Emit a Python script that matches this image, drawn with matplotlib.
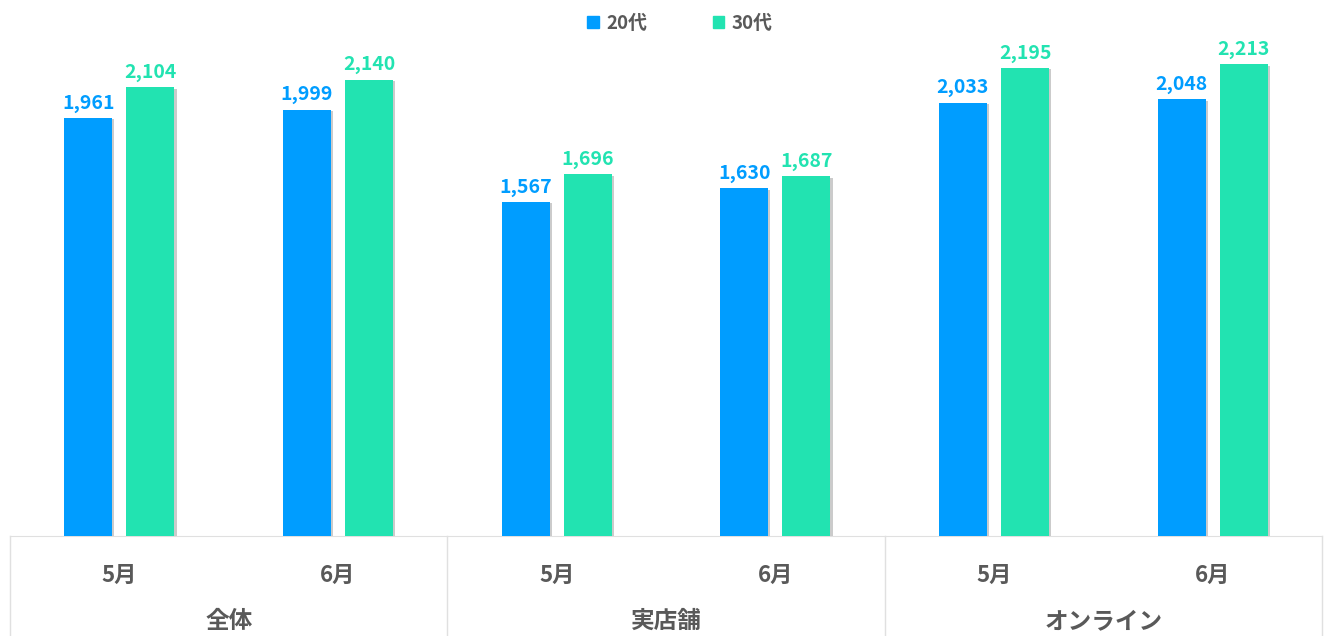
import matplotlib
matplotlib.use('Agg')
import matplotlib.pyplot as plt
import matplotlib.patheffects as pe
from matplotlib.patches import Patch
import matplotlib.transforms as mtransforms

plt.rcParams['font.family'] = ['Noto Sans CJK JP', 'DejaVu Sans']
plt.rcParams['font.weight'] = 'bold'

groups = ['全体', '実店舗', 'オンライン']
months = ['5月', '6月']
series = ['20代', '30代']
v20 = [1961, 1999, 1567, 1630, 2033, 2048]
v30 = [2104, 2140, 1696, 1687, 2195, 2213]
colors = ['#009DFF', '#22E3B1']
gray = '#595959'

fig = plt.figure(figsize=(13.33, 6.36), dpi=100)
ax = fig.add_axes([10 / 1333, 1 - 536 / 636, 1312 / 1333, 500 / 636])

x = list(range(len(v20)))
w = 0.22
off = 0.142
shadow = [pe.SimplePatchShadow(offset=(1.5, -1), shadow_rgbFace='#999999', alpha=0.5), pe.Normal()]
for vals, col, d in [(v20, colors[0], -off), (v30, colors[1], off)]:
    xs = [i + d for i in x]
    bars = ax.bar(xs, vals, width=w, color=col, zorder=3)
    for b in bars:
        b.set_path_effects(shadow)
    for xi, v in zip(xs, vals):
        ax.text(xi, v + 25, f'{v:,}', ha='center', va='bottom', color=col,
                fontsize=14, fontweight='bold')

ax.set_xlim(-0.5, 5.5)
ax.set_ylim(0, 2345)
ax.set_yticks([])
for s in ['top', 'right', 'left']:
    ax.spines[s].set_visible(False)
ax.spines['bottom'].set_color('#E0E0E0')

ax.set_xticks(x)
ax.set_xticklabels(months * len(groups), fontsize=16, color=gray, fontweight='bold')
ax.tick_params(axis='x', length=0, pad=20)

tr = mtransforms.blended_transform_factory(ax.transData, ax.transAxes)
for xb in [-0.5, 1.5, 3.5, 5.5]:
    ax.plot([xb, xb], [0, -0.21], transform=tr, color='#E0E0E0', lw=1, clip_on=False)
for gi, g in enumerate(groups):
    ax.text(gi * 2 + 0.5, -0.17, g, transform=tr, ha='center', va='center',
            fontsize=17, color=gray, fontweight='bold')

handles = [Patch(color=c, label=s) for c, s in zip(colors, series)]
fig.legend(handles=handles, loc='center', bbox_to_anchor=(0.51, 0.963), ncol=2,
           frameon=False, fontsize=13.5, handlelength=0.6, handleheight=0.6,
           columnspacing=3.5, handletextpad=0.4, labelcolor=gray)

fig.savefig('out.png', dpi=100)
